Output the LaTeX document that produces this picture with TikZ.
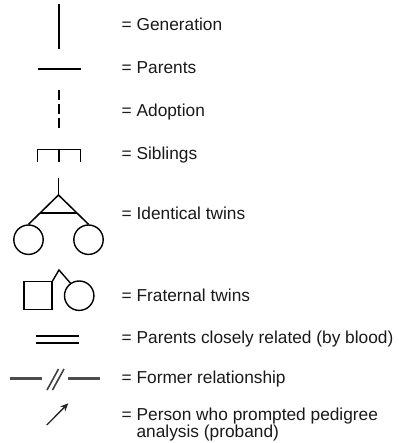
\documentclass[tikz,border=0pt]{standalone}
\usepackage{fontspec}
\setmainfont{Liberation Sans}
\usetikzlibrary{arrows.meta,calc}
\begin{document}
\begin{tikzpicture}[x=1pt,y=-1pt,
  sym/.style={line width=1.9pt, black},
  outline/.style={draw, line width=1.4pt, inner sep=0pt},
  female/.style={outline, circle, minimum size=29.4pt},
  male/.style={outline, rectangle, minimum size=28pt},
  former/.style={line width=2.8pt, black!70},
  slash/.style={line width=1.6pt, black!75},
  legend/.style={anchor=base west, inner sep=0pt,
    font=\fontsize{17.3}{17.3}\selectfont, text=black!90}]
\useasboundingbox (0,0) rectangle (398,443);

% generation
\coordinate (gen1) at (59.3,4.5);
\coordinate (gen2) at (59.3,49);
\draw[sym] (gen1) -- (gen2);
\node[legend] (tgen) at (121.5,31) {= Generation};

% parents
\coordinate (par1) at (37.7,68.7);
\coordinate (par2) at (80.7,68.7);
\draw[sym] (par1) -- (par2);
\node[legend] (tpar) at (121.5,74) {= Parents};

% adoption
\coordinate (ad1) at (59.3,90);
\coordinate (ad2) at (59.3,128);
\draw[sym, dash pattern=on 10pt off 4pt] (ad1) -- (ad2);
\node[legend] (tad) at (121.5,116.7) {= Adoption};

% siblings
\coordinate (sibL) at (37.5,149.5);
\coordinate (sibR) at (80.5,149.5);
\coordinate (sibM) at (59,149.5);
\draw[sym] ($(sibL)+(0,13)$) -- (sibL) -- (sibR) -- ($(sibR)+(0,13)$);
\draw[sym] (sibM) -- ($(sibM)+(0,13)$);
\node[legend] (tsib) at (121.5,160) {= Siblings};

% identical twins
\coordinate (idTop) at (58.5,178.5);
\coordinate (idApex) at (58.5,195);
\node[female] (idL) at (28.5,239.7) {};
\node[female] (idR) at (88.5,239.7) {};
\draw[sym] (idTop) -- (idApex);
\draw[sym, line width=1.5pt] (idL.north) -- (idApex) -- (idR.north);
\draw[sym, line width=1.5pt] ($(idApex)!0.61!(idL.north)$) -- ($(idApex)!0.61!(idR.north)$);
\node[legend] (tid) at (121.5,219) {= Identical twins};

% fraternal twins
\node[male] (frM) at (37.8,295.7) {};
\node[female] (frF) at (79.2,295.7) {};
\coordinate (frApex) at (59,270);
\draw[line width=1.4pt] (frM.north east) -- (frApex) -- (frF.125);
\node[legend] (tfr) at (121.5,301.7) {= Fraternal twins};

% consanguinity
\coordinate (co1) at (35.7,336);
\coordinate (co2) at (79.3,336);
\coordinate (co3) at (35.7,342.7);
\coordinate (co4) at (79.3,342.7);
\draw[sym, line width=1.7pt] (co1) -- (co2);
\draw[sym, line width=1.7pt] (co3) -- (co4);
\node[legend] (tco) at (121.5,343.3) {= Parents closely related (by blood)};

% former relationship
\coordinate (fo1) at (10,378.3);
\coordinate (fo2) at (41.7,378.3);
\coordinate (fo3) at (68.3,378.3);
\coordinate (fo4) at (100,378.3);
\draw[former] (fo1) -- (fo2);
\draw[former] (fo3) -- (fo4);
\coordinate (sa1) at (47,390);
\coordinate (sa2) at (58.5,369);
\coordinate (sb1) at (52.5,390);
\coordinate (sb2) at (64,369);
\draw[slash] (sa1) -- (sa2);
\draw[slash] (sb1) -- (sb2);
\node[legend] (tfo) at (121.5,383.3) {= Former relationship};

% proband
\coordinate (pr1) at (46.7,425);
\coordinate (pr2) at (68.3,403.3);
\draw[line width=1.3pt, black!85, -{Stealth[length=8pt,width=7pt]}] (pr1) -- (pr2);
\node[legend] (tpr) at (121.5,420) {= Person who prompted pedigree};
\node[legend] (tpr2) at (121.5,437.3) {\hphantom{= }analysis (proband)};
\end{tikzpicture}
\end{document}
